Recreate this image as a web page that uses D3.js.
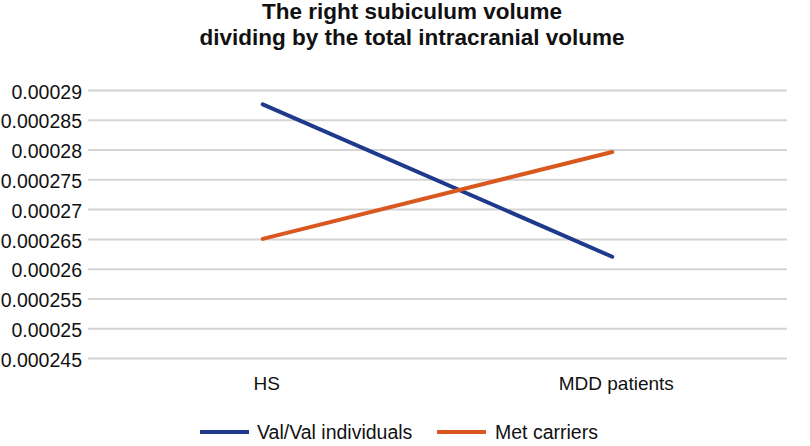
<!DOCTYPE html>
<html>
<head>
<meta charset="utf-8">
<script src="https://cdn.jsdelivr.net/npm/d3@7"></script>
<style>
  body { margin: 0; background: #fff; }
  text { font-family: "Liberation Sans", Arial, sans-serif; fill: #111; }
</style>
</head>
<body>
<svg width="810" height="446"></svg>
<script>
// data
const categories = ["HS", "MDD patients"];
const seriesNames = ["Val/Val individuals", "Met carriers"];
const valVal = [0.0002876, 0.000262];
const metCarriers = [0.000265, 0.0002796];
const yTicks = [0.000245, 0.00025, 0.000255, 0.00026, 0.000265, 0.00027, 0.000275, 0.00028, 0.000285, 0.00029];
const colors = ["#1f3a8c", "#d9581f"];

const svg = d3.select("svg");
const margin = { top: 90, right: 23, bottom: 88, left: 88 };
const width = 810 - margin.left - margin.right;
const height = 446 - margin.top - margin.bottom;

const g = svg.append("g")
    .attr("transform", "translate(" + margin.left + "," + margin.top + ")");

const x = d3.scaleBand().domain(categories).range([0, width]);
const y = d3.scaleLinear().domain([0.000245, 0.00029]).range([height, 0]);

// titre
svg.append("text")
    .attr("x", 412).attr("y", 19)
    .attr("text-anchor", "middle")
    .style("font-size", "22.5px").style("font-weight", "bold")
    .text("The right subiculum volume");
svg.append("text")
    .attr("x", 412).attr("y", 45)
    .attr("text-anchor", "middle")
    .style("font-size", "22.5px").style("font-weight", "bold")
    .text("dividing by the total intracranial volume");

// grille + axe y
const yAxis = g.append("g")
    .call(d3.axisLeft(y).tickValues(yTicks).tickSize(-width).tickPadding(6)
        .tickFormat(d => String(+d.toPrecision(6))));
yAxis.select(".domain").remove();
yAxis.selectAll("line").attr("stroke", "#d4d4d4").attr("stroke-width", 2);
yAxis.selectAll("text").style("font-size", "19.5px").attr("fill", "#111").attr("dy", "0.42em");

// axe x (étiquettes seulement)
const xAxis = g.append("g")
    .attr("transform", "translate(0," + height + ")")
    .call(d3.axisBottom(x).tickSize(0).tickPadding(19));
xAxis.select(".domain").remove();
xAxis.selectAll("text").style("font-size", "19px").attr("fill", "#111").attr("dx", 4);

// séries
const series = [valVal, metCarriers];
const line = d3.line()
    .x((d, i) => x(categories[i]) + x.bandwidth() / 2)
    .y(d => y(d));

series.forEach((s, k) => {
    g.append("path")
        .datum(s)
        .attr("fill", "none")
        .attr("stroke", colors[k])
        .attr("stroke-width", 4)
        .attr("stroke-linecap", "round")
        .attr("d", line);
});

// légende
const legend = svg.append("g").attr("transform", "translate(200,432)");
const offsets = [0, 237];
seriesNames.forEach((name, k) => {
    const item = legend.append("g").attr("transform", "translate(" + offsets[k] + ",0)");
    item.append("line")
        .attr("x1", 0).attr("x2", 49)
        .attr("stroke", colors[k]).attr("stroke-width", 4);
    item.append("text")
        .attr("x", 57 + k).attr("dy", "0.35em")
        .style("font-size", "19.5px")
        .text(name);
});
</script>
</body>
</html>
